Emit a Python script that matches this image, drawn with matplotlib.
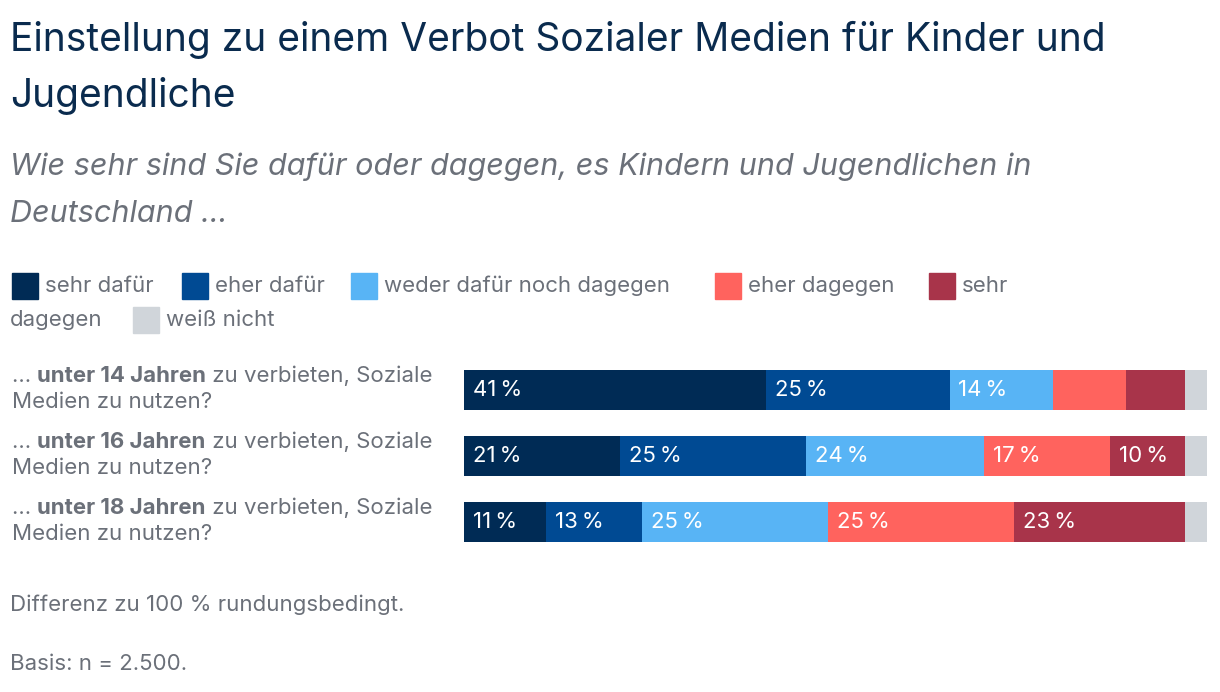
import matplotlib
matplotlib.use("Agg")
import matplotlib.pyplot as plt
from matplotlib.patches import Rectangle

plt.rcParams['font.family'] = ['Inter', 'DejaVu Sans']

categories = ["sehr dafür", "eher dafür", "weder dafür noch dagegen", "eher dagegen", "sehr dagegen", "weiß nicht"]
colors = ["#002B55", "#004A93", "#58B4F5", "#FF635E", "#A8344A", "#D0D5DA"]
rows_bold = ["unter 14 Jahren", "unter 16 Jahren", "unter 18 Jahren"]
values = [
    [41, 25, 14, 10, 8, 3],
    [21, 25, 24, 17, 10, 3],
    [11, 13, 25, 25, 23, 3],
]
show = [
    [1, 1, 1, 0, 0, 0],
    [1, 1, 1, 1, 1, 0],
    [1, 1, 1, 1, 1, 0],
]

W, H = 1220, 692
fig = plt.figure(figsize=(W/100, H/100), dpi=100)
def fx(x): return x / W
def fy(y): return 1 - y / H

title_c = "#0A2B4E"; grey = "#6B7079"
fig.text(fx(10), fy(40), "Einstellung zu einem Verbot Sozialer Medien für Kinder und", fontsize=28, color=title_c, va="center")
fig.text(fx(10), fy(96), "Jugendliche", fontsize=28, color=title_c, va="center")
fig.text(fx(10), fy(167), "Wie sehr sind Sie dafür oder dagegen, es Kindern und Jugendlichen in", fontsize=22, color=grey, style="italic", va="center")
fig.text(fx(10), fy(214), "Deutschland ...", fontsize=22, color=grey, style="italic", va="center")

# legend
leg = [(12, 286, 0), (182, 286, 1), (351, 286, 2), (715, 286, 3), (929, 286, 4), (133, 320, 5)]
for x, y, i in leg:
    fig.patches.append(Rectangle((fx(x), fy(y + 13)), 26/W, 26/H, transform=fig.transFigure, color=colors[i]))
    label = "sehr" if i == 4 else categories[i]
    fig.text(fx(x + 33), fy(y), label, fontsize=16, color=grey, va="center")
fig.text(fx(10), fy(320), "dagegen", fontsize=16, color=grey, va="center")

ax = fig.add_axes([fx(464), fy(555), (1207-464)/W, 198/H])
ax.set_xlim(0, sum(values[0]) - 1 if False else 100)
ax.set_ylim(2.5, -0.5)
ax.axis("off")
for r, vals in enumerate(values):
    tot = sum(vals)
    left = 0
    for j, v in enumerate(vals):
        w = v * 100 / tot
        ax.barh(r, w, left=left, height=40/66, color=colors[j], linewidth=0)
        if show[r][j]:
            ax.text(left + 1.2, r, f"{v}\u2009%", color="white", fontsize=16, va="center", ha="left")
        left += w
    y0 = 376 + 66 * r
    t = fig.text(fx(12), fy(y0), "... ", fontsize=16, color=grey, va="center")
    fig.canvas.draw()
    bb = t.get_window_extent()
    t2 = fig.text(bb.x1 / W, fy(y0), rows_bold[r], fontsize=16, color=grey, weight="bold", va="center")
    bb2 = t2.get_window_extent()
    fig.text(bb2.x1 / W, fy(y0), " zu verbieten, Soziale", fontsize=16, color=grey, va="center")
    fig.text(fx(12), fy(y0 + 26), "Medien zu nutzen?", fontsize=16, color=grey, va="center")

fig.text(fx(10), fy(605), "Differenz zu 100 % rundungsbedingt.", fontsize=16, color=grey, va="center")
fig.text(fx(10), fy(664), "Basis: n = 2.500.", fontsize=16, color=grey, va="center")

fig.savefig("out.png", dpi=100, facecolor="white")
